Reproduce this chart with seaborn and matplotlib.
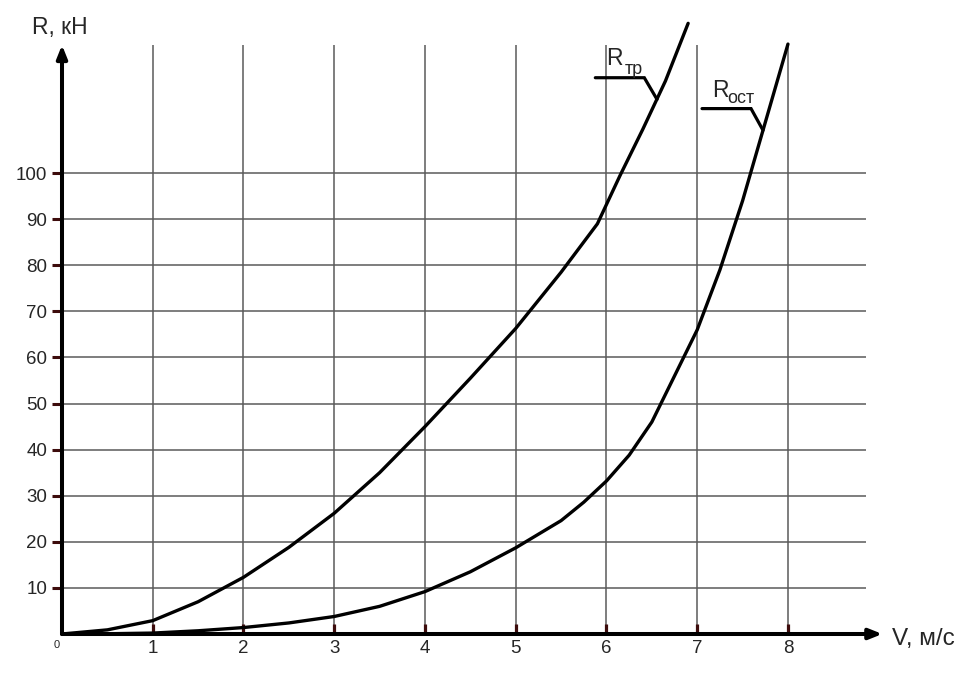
import matplotlib

matplotlib.use("Agg")
import matplotlib.pyplot as plt
import pandas as pd
import seaborn as sns

sns.set_theme(style="white")
plt.rcParams["font.family"] = ["Liberation Sans", "DejaVu Sans"]

# --- data ----------------------------------------------------------------- #
v_tr = [0, 0.5, 1, 1.5, 2, 2.5, 3, 3.5, 4, 4.5, 5, 5.5, 5.9, 6.15, 6.4, 6.65, 6.9]
r_tr = [0, 0.9, 2.9, 7.0, 12.3, 18.8, 26.2, 35, 45, 55.5, 66.3, 78.5, 89, 99.5,
        109.5, 120, 132.5]

v_ost = [0, 0.5, 1, 1.5, 2, 2.5, 3, 3.5, 4, 4.5, 5, 5.5, 5.75, 6, 6.25, 6.5,
         6.75, 7, 7.25, 7.5, 7.75, 8]
r_ost = [0, 0.05, 0.2, 0.7, 1.4, 2.4, 3.8, 6.0, 9.2, 13.5, 18.7, 24.6, 28.6,
         33.2, 38.8, 46, 56, 66, 79, 94, 111, 128]

x_ticks = [1, 2, 3, 4, 5, 6, 7, 8]
y_ticks = [10, 20, 30, 40, 50, 60, 70, 80, 90, 100]

TICK = "#3d0c0c"
GRID = "#5a5a5a"

df_tr = pd.DataFrame({"V": v_tr, "R": r_tr})
df_ost = pd.DataFrame({"V": v_ost, "R": r_ost})

fig = plt.figure(figsize=(9.77, 6.75), dpi=100)
ax = fig.add_axes([62 / 977, 41 / 675, 804 / 977, 589 / 675])
ax.set_xlim(0, 8.86)
ax.set_ylim(0, 127.8)

ax.set_xticks(x_ticks)
ax.set_yticks(y_ticks)
ax.grid(True, color=GRID, lw=1.1)
ax.set_axisbelow(True)
for s in ax.spines.values():
    s.set_visible(False)

ax.tick_params(axis="x", direction="in", length=7.5, width=2.3, color=TICK,
               labelsize=13.5, pad=4, bottom=True)
ax.tick_params(axis="y", direction="out", length=7.2, width=2.2, color=TICK,
               labelsize=13.5, pad=3.5, left=True)

# curves
for d in (df_tr, df_ost):
    sns.lineplot(data=d, x="V", y="R", color="black", lw=2.4, ax=ax,
                 estimator=None, sort=False)
    ax.lines[-1].set_clip_on(False)
ax.set_xlabel("")
ax.set_ylabel("")

# axes with arrows
arrow = dict(arrowstyle="-|>,head_length=0.55,head_width=0.22", color="black",
             lw=2.9, shrinkA=0, shrinkB=0, mutation_scale=14)
ax.annotate("", xy=(9.04, 0), xytext=(0, 0), arrowprops=arrow,
            annotation_clip=False)
ax.annotate("", xy=(0, 127.8), xytext=(0, 0), arrowprops=arrow,
            annotation_clip=False)

ax.text(-0.055, -2.3, "0", ha="center", va="center", fontsize=8)

fig.text(32 / 977, 1 - 34.3 / 675, "R, кН", ha="left", va="baseline",
         fontsize=16.5)
fig.text(892 / 977, 30 / 675, "V, м/с", ha="left", va="baseline",
         fontsize=17.5)

# curve labels with leader lines
ax.plot([5.877, 6.417, 6.557], [120.7, 120.7, 116.0], color="black", lw=2.3,
        clip_on=False, solid_joinstyle="miter")
ax.plot([7.053, 7.593, 7.725], [114.0, 114.0, 109.3], color="black", lw=2.3,
        clip_on=False, solid_joinstyle="miter")
ax.text(6.0, 123.4, "R", ha="left", va="baseline", fontsize=16.5, clip_on=False)
ax.text(6.2, 121.6, "тр", ha="left", va="baseline", fontsize=13, clip_on=False)
ax.text(7.16, 116.6, "R", ha="left", va="baseline", fontsize=16.5, clip_on=False)
ax.text(7.335, 115.2, "ост", ha="left", va="baseline", fontsize=13,
        clip_on=False)

fig.savefig("out.png", dpi=100)
plt.close(fig)
